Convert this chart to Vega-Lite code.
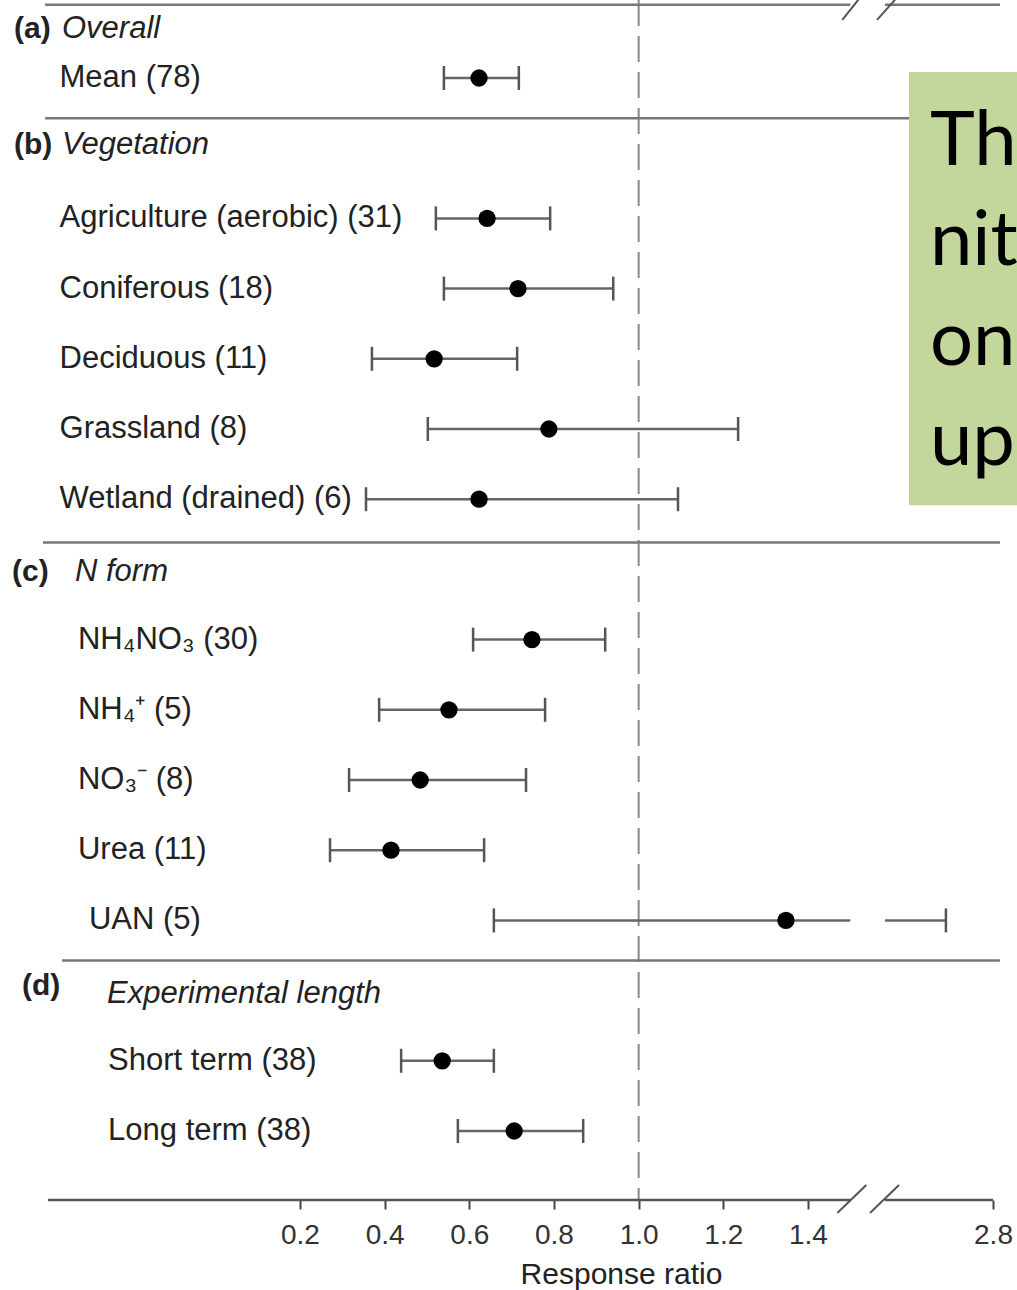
{
  "$schema": "https://vega.github.io/schema/vega-lite/v6.json",
  "width": 1017,
  "height": 1200,
  "autosize": {"type": "none"},
  "padding": {"top": 0, "left": 0, "right": 0, "bottom": 90},
  "background": "white",
  "config": {"view": {"stroke": null}, "font": "Liberation Sans"},
  "resolve": {"axis": {"x": "independent", "y": "independent"}},
  "datasets": {
    "items": [
      {"row": "Mean (78)", "section": "a", "rr": 0.623, "lo": 0.540, "hi": 0.717},
      {"row": "Agriculture (aerobic) (31)", "section": "b", "rr": 0.642, "lo": 0.521, "hi": 0.791},
      {"row": "Coniferous (18)", "section": "b", "rr": 0.715, "lo": 0.540, "hi": 0.940},
      {"row": "Deciduous (11)", "section": "b", "rr": 0.517, "lo": 0.370, "hi": 0.713},
      {"row": "Grassland (8)", "section": "b", "rr": 0.788, "lo": 0.502, "hi": 1.235},
      {"row": "Wetland (drained) (6)", "section": "b", "rr": 0.623, "lo": 0.356, "hi": 1.093},
      {"row": "NH₄NO₃  (30)", "section": "c", "rr": 0.748, "lo": 0.609, "hi": 0.921},
      {"row": "NH₄⁺  (5)", "section": "c", "rr": 0.552, "lo": 0.387, "hi": 0.779},
      {"row": "NO₃⁻ (8)", "section": "c", "rr": 0.484, "lo": 0.316, "hi": 0.734},
      {"row": "Urea (11)", "section": "c", "rr": 0.415, "lo": 0.271, "hi": 0.635},
      {"row": "UAN (5)", "section": "c", "rr": 1.348, "lo": 0.658, "hi": 2.691},
      {"row": "Short term (38)", "section": "d", "rr": 0.536, "lo": 0.439, "hi": 0.658},
      {"row": "Long term (38)", "section": "d", "rr": 0.706, "lo": 0.573, "hi": 0.869}
    ],
    "headers": [
      {"row": "(a) Overall", "section": "a", "tag": "(a)", "name": "Overall"},
      {"row": "(b) Vegetation", "section": "b", "tag": "(b)", "name": "Vegetation"},
      {"row": "(c) N form", "section": "c", "tag": "(c)", "name": "N form"},
      {"row": "(d) Experimental length", "section": "d", "tag": "(d)", "name": "Experimental length"}
    ],
    "note": [{"text": "Th\nnit\non\nup"}],
    "one": [{}]
  },
  "layer": [
    {
      "data": {"name": "one"},
      "mark": {"type": "rule", "color": "#888", "strokeWidth": 2, "strokeDash": [26, 10]},
      "encoding": {
        "x": {"datum": 1.0, "type": "quantitative", "axis": null, "scale": {"type": "linear", "domain": [-0.39, 1.5, 2.55, 2.8], "range": [50.2, 850.3, 885, 993], "nice": false, "zero": false}}
      }
    },
    {
      "data": {"name": "one"},
      "mark": {"type": "rule", "color": "#777", "strokeWidth": 2.5, "yOffset": -3},
      "encoding": {
        "x": {"datum": -0.402, "type": "quantitative", "axis": null},
        "x2": {"datum": 1.5},
        "y": {"datum": "(a) Overall", "type": "nominal", "axis": null, "scale": {"type": "point", "domain": ["(a) Overall", "Mean (78)", "(b) Vegetation", "Agriculture (aerobic) (31)", "Coniferous (18)", "Deciduous (11)", "Grassland (8)", "Wetland (drained) (6)", "(c) N form", "NH₄NO₃  (30)", "NH₄⁺  (5)", "NO₃⁻ (8)", "Urea (11)", "UAN (5)", "(d) Experimental length", "Short term (38)", "Long term (38)"], "range": [7.8, 1131], "padding": 0}}
      }
    },
    {
      "data": {"name": "one"},
      "mark": {"type": "rule", "color": "#777", "strokeWidth": 2.5, "yOffset": -3},
      "encoding": {
        "x": {"datum": 2.55, "type": "quantitative", "axis": null},
        "x2": {"datum": 2.816},
        "y": {"datum": "(a) Overall", "type": "nominal", "axis": null}
      }
    },
    {
      "data": {"name": "one"},
      "mark": {"type": "rule", "color": "#777", "strokeWidth": 2.5, "yOffset": -30},
      "encoding": {
        "x": {"datum": -0.402, "type": "quantitative", "axis": null},
        "x2": {"datum": 2.816},
        "y": {"datum": "(b) Vegetation", "type": "nominal", "axis": null}
      }
    },
    {
      "data": {"name": "one"},
      "mark": {"type": "rule", "color": "#777", "strokeWidth": 2.5, "yOffset": -27},
      "encoding": {
        "x": {"datum": -0.407, "type": "quantitative", "axis": null},
        "x2": {"datum": 2.816},
        "y": {"datum": "(c) N form", "type": "nominal", "axis": null}
      }
    },
    {
      "data": {"name": "one"},
      "mark": {"type": "rule", "color": "#777", "strokeWidth": 2.5, "yOffset": -30},
      "encoding": {
        "x": {"datum": -0.362, "type": "quantitative", "axis": null},
        "x2": {"datum": 2.816},
        "y": {"datum": "(d) Experimental length", "type": "nominal", "axis": null}
      }
    },
    {
      "data": {"name": "one"},
      "mark": {"type": "rule", "color": "#555", "strokeWidth": 2.5, "yOffset": 69},
      "encoding": {
        "x": {"datum": -0.395, "type": "quantitative", "axis": null},
        "x2": {"datum": 1.5},
        "y": {"datum": "Long term (38)", "type": "nominal", "axis": null}
      }
    },
    {
      "data": {"name": "one"},
      "mark": {"type": "rule", "color": "#555", "strokeWidth": 2.5, "yOffset": 69},
      "encoding": {
        "x": {"datum": 2.55, "type": "quantitative", "axis": null},
        "x2": {"datum": 2.8},
        "y": {"datum": "Long term (38)", "type": "nominal", "axis": null}
      }
    },
    {
      "data": {"name": "one"},
      "mark": {"type": "rule", "color": "#555", "strokeWidth": 2, "xOffset": -8, "x2Offset": 8, "yOffset": 12, "y2Offset": -8},
      "encoding": {
        "x": {"datum": 1.5, "type": "quantitative", "axis": null},
        "x2": {"datum": 1.5},
        "y": {"datum": "(a) Overall", "type": "nominal", "axis": null},
        "y2": {"datum": "(a) Overall"}
      }
    },
    {
      "data": {"name": "one"},
      "mark": {"type": "rule", "color": "#555", "strokeWidth": 2, "xOffset": -8, "x2Offset": 10, "yOffset": 12, "y2Offset": -8},
      "encoding": {
        "x": {"datum": 2.55, "type": "quantitative", "axis": null},
        "x2": {"datum": 2.55},
        "y": {"datum": "(a) Overall", "type": "nominal", "axis": null},
        "y2": {"datum": "(a) Overall"}
      }
    },
    {
      "data": {"name": "one"},
      "mark": {"type": "rule", "color": "#555", "strokeWidth": 2, "xOffset": -13, "x2Offset": 16, "yOffset": 82, "y2Offset": 54},
      "encoding": {
        "x": {"datum": 1.5, "type": "quantitative", "axis": null},
        "x2": {"datum": 1.5},
        "y": {"datum": "Long term (38)", "type": "nominal", "axis": null},
        "y2": {"datum": "Long term (38)"}
      }
    },
    {
      "data": {"name": "one"},
      "mark": {"type": "rule", "color": "#555", "strokeWidth": 2, "xOffset": -15, "x2Offset": 14, "yOffset": 82, "y2Offset": 54},
      "encoding": {
        "x": {"datum": 2.55, "type": "quantitative", "axis": null},
        "x2": {"datum": 2.55},
        "y": {"datum": "Long term (38)", "type": "nominal", "axis": null},
        "y2": {"datum": "Long term (38)"}
      }
    },
    {
      "data": {"name": "items"},
      "mark": {"type": "rule", "color": "#666", "strokeWidth": 2.5},
      "encoding": {
        "x": {"field": "lo", "type": "quantitative", "axis": {"values": [0.2, 0.4, 0.6, 0.8, 1.0, 1.2, 1.4, 2.8], "format": ".1f", "domain": false, "ticks": true, "tickSize": 9, "tickWidth": 2, "tickColor": "#444", "grid": false, "labelFont": "Liberation Sans", "labelFontSize": 28, "labelColor": "#333", "labelPadding": 12, "labelFlush": false, "labelOverlap": false, "title": "Response ratio", "titleFont": "Liberation Sans", "titleFontSize": 30, "titleFontWeight": "normal", "titleColor": "#222", "titlePadding": 10, "titleX": 621}},
        "x2": {"field": "hi"},
        "y": {"field": "row", "type": "nominal", "axis": null}
      }
    },
    {
      "data": {"name": "one"},
      "mark": {"type": "rule", "color": "white", "strokeWidth": 8},
      "encoding": {
        "x": {"datum": 1.5, "type": "quantitative", "axis": null},
        "x2": {"datum": 2.55},
        "y": {"datum": "UAN (5)", "type": "nominal", "axis": null}
      }
    },
    {
      "data": {"name": "items"},
      "mark": {"type": "tick", "color": "#555", "size": 24, "thickness": 2.5, "opacity": 1},
      "encoding": {
        "x": {"field": "lo", "type": "quantitative", "axis": null},
        "y": {"field": "row", "type": "nominal", "axis": null}
      }
    },
    {
      "data": {"name": "items"},
      "mark": {"type": "tick", "color": "#555", "size": 24, "thickness": 2.5, "opacity": 1},
      "encoding": {
        "x": {"field": "hi", "type": "quantitative", "axis": null},
        "y": {"field": "row", "type": "nominal", "axis": null}
      }
    },
    {
      "data": {"name": "items"},
      "mark": {"type": "point", "filled": true, "color": "black", "size": 300, "opacity": 1},
      "encoding": {
        "x": {"field": "rr", "type": "quantitative", "axis": null},
        "y": {"field": "row", "type": "nominal", "axis": null}
      }
    },
    {
      "data": {"name": "items"},
      "transform": [{"filter": "datum.section === 'a' || datum.section === 'b'"}],
      "mark": {"type": "text", "align": "left", "baseline": "middle", "fontSize": 31, "color": "#222", "font": "Liberation Sans"},
      "encoding": {
        "x": {"datum": -0.368, "type": "quantitative", "axis": null},
        "y": {"field": "row", "type": "nominal", "axis": null},
        "text": {"field": "row"}
      }
    },
    {
      "data": {"name": "items"},
      "transform": [{"filter": "datum.section === 'c' && datum.row !== 'UAN (5)'"}],
      "mark": {"type": "text", "align": "left", "baseline": "middle", "fontSize": 31, "color": "#222", "font": "Liberation Sans"},
      "encoding": {
        "x": {"datum": -0.3244, "type": "quantitative", "axis": null},
        "y": {"field": "row", "type": "nominal", "axis": null},
        "text": {"field": "row"}
      }
    },
    {
      "data": {"name": "items"},
      "transform": [{"filter": "datum.row === 'UAN (5)'"}],
      "mark": {"type": "text", "align": "left", "baseline": "middle", "fontSize": 31, "color": "#222", "font": "Liberation Sans"},
      "encoding": {
        "x": {"datum": -0.2984, "type": "quantitative", "axis": null},
        "y": {"field": "row", "type": "nominal", "axis": null},
        "text": {"field": "row"}
      }
    },
    {
      "data": {"name": "items"},
      "transform": [{"filter": "datum.section === 'd'"}],
      "mark": {"type": "text", "align": "left", "baseline": "middle", "fontSize": 31, "color": "#222", "font": "Liberation Sans"},
      "encoding": {
        "x": {"datum": -0.2533, "type": "quantitative", "axis": null},
        "y": {"field": "row", "type": "nominal", "axis": null},
        "text": {"field": "row"}
      }
    },
    {
      "data": {"name": "headers"},
      "transform": [{"filter": "datum.section === 'a'"}],
      "mark": {"type": "text", "align": "left", "baseline": "middle", "fontSize": 30, "fontWeight": "bold", "color": "#222", "yOffset": 21},
      "encoding": {
        "x": {"datum": -0.4755, "type": "quantitative", "axis": null},
        "y": {"field": "row", "type": "nominal", "axis": null},
        "text": {"field": "tag"}
      }
    },
    {
      "data": {"name": "headers"},
      "transform": [{"filter": "datum.section === 'a'"}],
      "mark": {"type": "text", "align": "left", "baseline": "middle", "fontSize": 31, "fontStyle": "italic", "color": "#222", "yOffset": 21},
      "encoding": {
        "x": {"datum": -0.3622, "type": "quantitative", "axis": null},
        "y": {"field": "row", "type": "nominal", "axis": null},
        "text": {"field": "name"}
      }
    },
    {
      "data": {"name": "headers"},
      "transform": [{"filter": "datum.section === 'b'"}],
      "mark": {"type": "text", "align": "left", "baseline": "middle", "fontSize": 30, "fontWeight": "bold", "color": "#222", "yOffset": -3},
      "encoding": {
        "x": {"datum": -0.4755, "type": "quantitative", "axis": null},
        "y": {"field": "row", "type": "nominal", "axis": null},
        "text": {"field": "tag"}
      }
    },
    {
      "data": {"name": "headers"},
      "transform": [{"filter": "datum.section === 'b'"}],
      "mark": {"type": "text", "align": "left", "baseline": "middle", "fontSize": 31, "fontStyle": "italic", "color": "#222", "yOffset": -3},
      "encoding": {
        "x": {"datum": -0.3622, "type": "quantitative", "axis": null},
        "y": {"field": "row", "type": "nominal", "axis": null},
        "text": {"field": "name"}
      }
    },
    {
      "data": {"name": "headers"},
      "transform": [{"filter": "datum.section === 'c'"}],
      "mark": {"type": "text", "align": "left", "baseline": "middle", "fontSize": 30, "fontWeight": "bold", "color": "#222", "yOffset": 3},
      "encoding": {
        "x": {"datum": -0.48, "type": "quantitative", "axis": null},
        "y": {"field": "row", "type": "nominal", "axis": null},
        "text": {"field": "tag"}
      }
    },
    {
      "data": {"name": "headers"},
      "transform": [{"filter": "datum.section === 'c'"}],
      "mark": {"type": "text", "align": "left", "baseline": "middle", "fontSize": 31, "fontStyle": "italic", "color": "#222", "yOffset": 3},
      "encoding": {
        "x": {"datum": -0.3315, "type": "quantitative", "axis": null},
        "y": {"field": "row", "type": "nominal", "axis": null},
        "text": {"field": "name"}
      }
    },
    {
      "data": {"name": "headers"},
      "transform": [{"filter": "datum.section === 'd'"}],
      "mark": {"type": "text", "align": "left", "baseline": "middle", "fontSize": 30, "fontWeight": "bold", "color": "#222", "yOffset": -5},
      "encoding": {
        "x": {"datum": -0.4567, "type": "quantitative", "axis": null},
        "y": {"field": "row", "type": "nominal", "axis": null},
        "text": {"field": "tag"}
      }
    },
    {
      "data": {"name": "headers"},
      "transform": [{"filter": "datum.section === 'd'"}],
      "mark": {"type": "text", "align": "left", "baseline": "middle", "fontSize": 31, "fontStyle": "italic", "color": "#222", "yOffset": 3},
      "encoding": {
        "x": {"datum": -0.2557, "type": "quantitative", "axis": null},
        "y": {"field": "row", "type": "nominal", "axis": null},
        "text": {"field": "name"}
      }
    },
    {
      "data": {"name": "one"},
      "mark": {"type": "rect", "color": "#c3d69b", "yOffset": -6, "y2Offset": 6},
      "encoding": {
        "x": {"datum": 2.6056, "type": "quantitative", "axis": null},
        "x2": {"datum": 2.9},
        "y": {"datum": "Mean (78)", "type": "nominal", "axis": null},
        "y2": {"datum": "Wetland (drained) (6)"}
      }
    },
    {
      "data": {"name": "note"},
      "mark": {"type": "text", "align": "left", "baseline": "alphabetic", "font": "Lato", "fontSize": 76, "lineHeight": 100, "lineBreak": "\n", "color": "black", "yOffset": 17},
      "encoding": {
        "x": {"datum": 2.654, "type": "quantitative", "axis": null},
        "y": {"datum": "(b) Vegetation", "type": "nominal", "axis": null},
        "text": {"field": "text"}
      }
    }
  ]
}
